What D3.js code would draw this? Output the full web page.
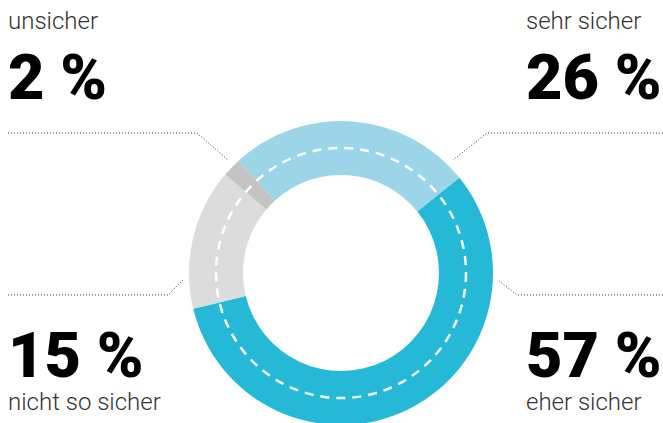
<!DOCTYPE html>
<html>
<head>
<meta charset="utf-8">
<script src="https://cdn.jsdelivr.net/npm/d3@7"></script>
<style>
  html, body { margin: 0; padding: 0; background: #fff; }
  svg { display: block; font-family: Roboto, "Noto Sans", sans-serif; }
</style>
</head>
<body>
<div id="container"></div>
<script>
// données
const categories = ["sehr sicher", "eher sicher", "nicht so sicher", "unsicher"];
const values = [26, 57, 15, 2];
const colors = ["#9dd5e8", "#25b9d7", "#dcdcdc", "#c4c4c4"];
const valueLabels = ["26 %", "57 %", "15 %", "2 %"];

const width = 663;
const height = 423;
const cx = 341, cy = 273;
const outerR = 152, innerR = 98;

const svg = d3.select("#container").append("svg")
    .attr("width", width)
    .attr("height", height);

const pie = d3.pie()
    .sort(null)
    .value(d => d.value)
    .startAngle(-0.74)
    .endAngle(-0.74 + 2 * Math.PI);

const arc = d3.arc().innerRadius(innerR).outerRadius(outerR);

const data = categories.map((c, i) => ({ name: c, value: values[i], color: colors[i], label: valueLabels[i] }));

const g = svg.append("g").attr("transform", `translate(${cx},${cy})`);

g.selectAll("path")
    .data(pie(data))
    .join("path")
    .attr("d", arc)
    .attr("fill", d => d.data.color);

// la ligne pointillée blanche au milieu de l'anneau
g.append("circle")
    .attr("r", (innerR + outerR) / 2)
    .attr("fill", "none")
    .attr("stroke", "#fff")
    .attr("stroke-width", 2.5)
    .attr("stroke-dasharray", "9 7");

// lignes de renvoi en pointillés
const leaders = [
    [[8, 133], [197, 133], [228, 160]],
    [[663, 133], [487, 133], [453, 160]],
    [[8, 295], [168, 295], [183, 280]],
    [[663, 295], [517, 295], [498, 280]]
];
svg.append("g")
    .selectAll("path")
    .data(leaders)
    .join("path")
    .attr("d", d3.line())
    .attr("fill", "none")
    .attr("stroke", "#333")
    .attr("stroke-width", 1)
    .attr("stroke-dasharray", "1 2");

// textes
const labelPos = {
    "sehr sicher": { x: 526, name: 29, value: 99 },
    "eher sicher": { x: 526, name: 410, value: 377 },
    "nicht so sicher": { x: 8, name: 410, value: 377 },
    "unsicher": { x: 8, name: 29, value: 99 }
};

const texts = svg.append("g");
data.forEach(d => {
    const p = labelPos[d.name];
    texts.append("text")
        .attr("x", p.x)
        .attr("y", p.name)
        .attr("font-size", 24)
        .attr("font-weight", 300)
        .attr("fill", "#333")
        .text(d.name);
    texts.append("text")
        .attr("x", p.x)
        .attr("y", p.value)
        .attr("font-size", 63)
        .attr("font-weight", 900)
        .attr("fill", "#000")
        .text(d.label);
});
</script>
</body>
</html>
